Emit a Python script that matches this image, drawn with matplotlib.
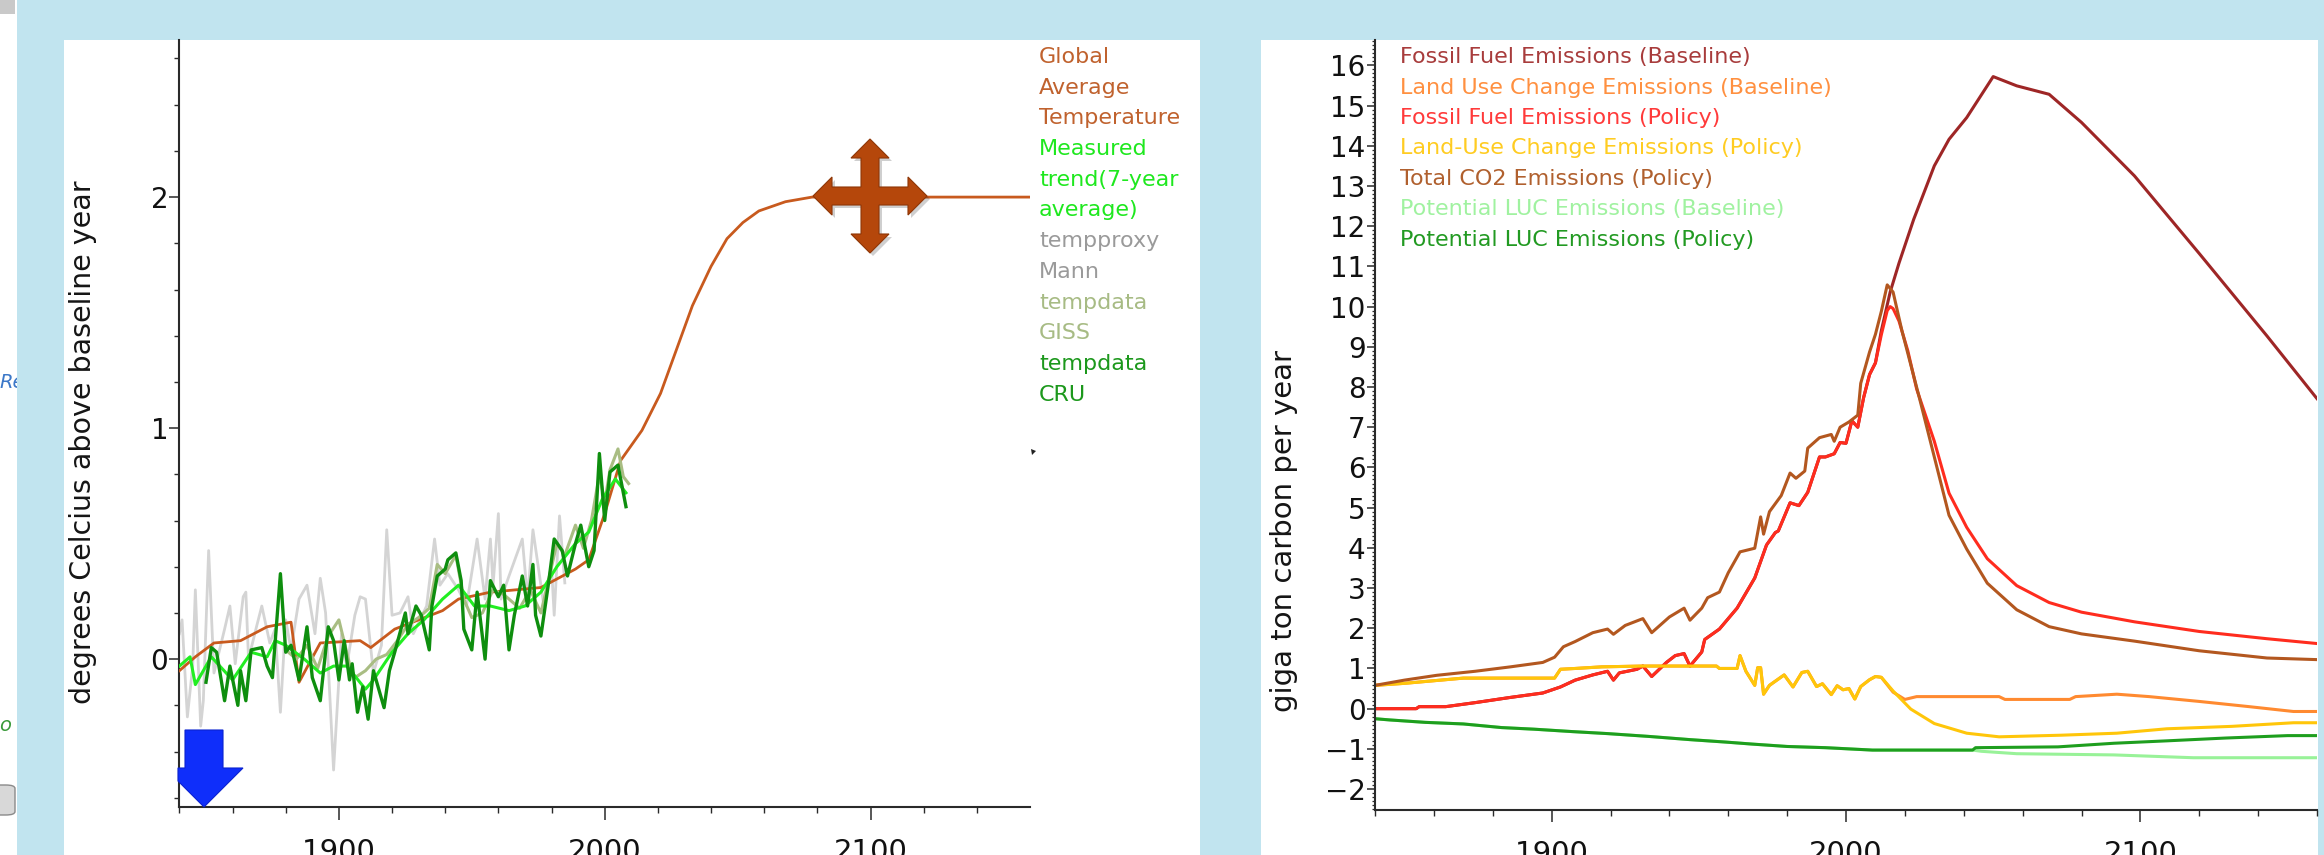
import matplotlib
matplotlib.use("Agg")
import matplotlib.pyplot as plt
from matplotlib.patches import Rectangle, Polygon, FancyBboxPatch
from matplotlib.ticker import MultipleLocator, FixedLocator

# ---------------- data: left chart (temperature) ----------------
temp_years = [1840, 1846, 1853, 1863, 1873, 1882, 1885, 1893, 1908, 1912, 1921, 1939, 1945, 1957,
              1976, 1989, 1994, 2000, 2006, 2014, 2021, 2027, 2033, 2040, 2046, 2052, 2058, 2068,
              2078, 2160]
temp_vals = [-0.05, 0.01, 0.07, 0.08, 0.14, 0.16, -0.10, 0.07, 0.08, 0.05, 0.13, 0.21, 0.26, 0.29,
             0.31, 0.39, 0.43, 0.63, 0.86, 0.99, 1.15, 1.34, 1.53, 1.70, 1.82, 1.89, 1.94, 1.98,
             2.00, 2.00]

cru_years = [1850, 1852, 1854, 1857, 1859, 1862, 1863, 1865, 1867, 1871, 1873, 1875, 1878, 1880,
             1882, 1885, 1888, 1890, 1893, 1896, 1898, 1900, 1902, 1904, 1905, 1907, 1909, 1911,
             1913, 1917, 1919, 1921, 1925, 1926, 1929, 1931, 1934, 1935, 1937, 1940, 1941, 1944,
             1946, 1947, 1950, 1952, 1955, 1957, 1960, 1962, 1964, 1966, 1969, 1971, 1973, 1974,
             1976, 1979, 1981, 1984, 1986, 1989, 1991, 1994, 1996, 1998, 2000, 2002, 2005, 2008]
cru_vals = [-0.10, 0.05, 0.03, -0.18, -0.03, -0.20, -0.05, -0.18, 0.04, 0.05, -0.03, -0.08, 0.37,
            0.03, 0.06, -0.09, 0.14, -0.08, -0.18, 0.14, 0.08, -0.09, 0.08, -0.09, -0.02, -0.23,
            -0.12, -0.26, -0.05, -0.21, -0.05, 0.03, 0.20, 0.11, 0.23, 0.19, 0.04, 0.23, 0.36, 0.39,
            0.43, 0.46, 0.34, 0.13, 0.04, 0.29, 0.00, 0.34, 0.27, 0.32, 0.04, 0.19, 0.36, 0.23,
            0.41, 0.19, 0.10, 0.34, 0.52, 0.47, 0.36, 0.50, 0.58, 0.40, 0.47, 0.89, 0.60, 0.81,
            0.84, 0.66]

trend_years = [1840, 1844, 1846, 1852, 1860, 1867, 1873, 1876, 1880, 1887, 1893, 1898, 1903, 1910,
               1913, 1920, 1926, 1932, 1939, 1945, 1951, 1957, 1964, 1970, 1976, 1982, 1989, 1994,
               1999, 2004, 2008]
trend_vals = [-0.03, 0.01, -0.11, 0.01, -0.09, 0.03, 0.01, 0.08, 0.06, 0.00, -0.06, -0.03, -0.03,
              -0.13, -0.09, 0.03, 0.11, 0.17, 0.26, 0.32, 0.23, 0.23, 0.21, 0.23, 0.29, 0.40, 0.50,
              0.55, 0.69, 0.78, 0.72]

mann_years = [1840, 1841, 1843, 1845, 1846, 1848, 1849, 1851, 1853, 1857, 1859, 1861, 1864, 1865,
              1866, 1869, 1871, 1874, 1876, 1878, 1880, 1882, 1885, 1888, 1891, 1893, 1895, 1898,
              1901, 1903, 1906, 1908, 1910, 1913, 1916, 1918, 1920, 1923, 1926, 1928, 1933, 1936,
              1938, 1941, 1945, 1948, 1952, 1955, 1957, 1958, 1960, 1961, 1964, 1969, 1971, 1973,
              1975, 1977, 1980, 1981, 1983, 1985]
mann_vals = [0.11, 0.17, -0.25, -0.03, 0.30, -0.29, -0.18, 0.47, -0.06, 0.13, 0.23, -0.02, 0.27,
             0.29, 0.00, 0.14, 0.23, 0.07, 0.13, -0.23, 0.17, 0.04, 0.26, 0.32, 0.11, 0.35, 0.20,
             -0.48, 0.11, -0.03, 0.19, 0.27, 0.26, -0.06, 0.06, 0.56, 0.19, 0.20, 0.27, 0.11, 0.23,
             0.52, 0.32, 0.37, 0.30, 0.23, 0.52, 0.26, 0.52, 0.32, 0.63, 0.26, 0.36, 0.52, 0.26,
             0.56, 0.40, 0.24, 0.40, 0.19, 0.62, 0.33]

giss_years = [1880, 1884, 1888, 1892, 1896, 1900, 1904, 1906, 1910, 1914, 1918, 1922, 1926, 1930,
              1934, 1937, 1940, 1944, 1947, 1950, 1954, 1958, 1962, 1964, 1968, 1972, 1976, 1980,
              1982, 1985, 1989, 1992, 1995, 1998, 2000, 2002, 2005, 2007, 2009]
giss_vals = [0.04, 0.00, 0.06, -0.04, 0.10, 0.17, -0.02, -0.08, -0.05, 0.00, 0.02, 0.08, 0.15, 0.18,
             0.22, 0.41, 0.37, 0.45, 0.26, 0.18, 0.20, 0.30, 0.28, 0.26, 0.22, 0.30, 0.20, 0.40,
             0.50, 0.45, 0.58, 0.48, 0.60, 0.80, 0.68, 0.82, 0.91, 0.79, 0.76]

left_labels = ["Global", "Average", "Temperature", "Measured", "trend(7-year", "average)",
               "tempproxy", "Mann", "tempdata", "GISS", "tempdata", "CRU"]
left_label_colors = ["#C0622E"] * 3 + ["#1EE81E"] * 3 + ["#9A9A9A"] * 2 + ["#A7BB84"] * 2 + ["#1C981C"] * 2

# ---------------- data: right chart (emissions) ----------------
ff_hist_years = [1840, 1854, 1855, 1864, 1874, 1886, 1897, 1903, 1908, 1914, 1919, 1921, 1923, 1929,
                 1931, 1934, 1939, 1942, 1945, 1947, 1951, 1952, 1957, 1963, 1969, 1973, 1976, 1977,
                 1981, 1984, 1987, 1991, 1993, 1996, 1998, 2000, 2002, 2004, 2006, 2008, 2010]
ff_hist_vals = [0.00, 0.00, 0.05, 0.05, 0.15, 0.28, 0.39, 0.54, 0.71, 0.84, 0.93, 0.71, 0.89, 0.98,
                1.06, 0.80, 1.15, 1.32, 1.37, 1.06, 1.41, 1.72, 1.98, 2.50, 3.25, 4.07, 4.38, 4.42,
                5.12, 5.05, 5.38, 6.26, 6.26, 6.34, 6.62, 6.60, 7.16, 7.00, 7.74, 8.31, 8.60]
ff_policy_years = [2012, 2014, 2015, 2016, 2018, 2021, 2024, 2027, 2030, 2035, 2041, 2048, 2058,
                   2069, 2080, 2098, 2120, 2143, 2160]
ff_policy_vals = [9.30, 9.90, 10.00, 9.95, 9.64, 8.90, 7.95, 7.30, 6.65, 5.36, 4.51, 3.73, 3.06,
                  2.64, 2.40, 2.16, 1.92, 1.74, 1.62]
ff_base_years = [2012, 2015, 2018, 2023, 2030, 2035, 2041, 2050, 2058, 2069, 2080, 2098, 2120, 2143, 2160]
ff_base_vals = [9.40, 10.36, 11.08, 12.17, 13.50, 14.16, 14.70, 15.72, 15.49, 15.28, 14.58, 13.25,
                11.32, 9.27, 7.71]

tot_years = [1840, 1850, 1861, 1874, 1886, 1897, 1901, 1904, 1908, 1914, 1919, 1921, 1925, 1931,
             1934, 1940, 1945, 1947, 1951, 1953, 1957, 1960, 1964, 1969, 1971, 1972, 1974, 1978,
             1981, 1983, 1986, 1987, 1991, 1995, 1996, 1998, 2001, 2004, 2005, 2008, 2010, 2012,
             2014, 2016, 2019, 2025, 2030, 2035, 2041, 2048, 2058, 2069, 2080, 2098, 2120, 2143, 2160]
tot_vals = [0.58, 0.71, 0.83, 0.93, 1.04, 1.15, 1.28, 1.54, 1.67, 1.89, 1.98, 1.85, 2.07, 2.24,
            1.89, 2.28, 2.50, 2.20, 2.50, 2.76, 2.90, 3.38, 3.90, 3.99, 4.77, 4.34, 4.90, 5.30,
            5.86, 5.73, 5.91, 6.48, 6.74, 6.82, 6.65, 7.00, 7.13, 7.30, 8.09, 8.87, 9.31, 9.88,
            10.54, 10.36, 9.40, 7.71, 6.26, 4.81, 3.97, 3.12, 2.46, 2.04, 1.86, 1.68, 1.44, 1.26, 1.22]

luc_hist_years = [1840, 1850, 1870, 1901, 1903, 1908, 1917, 1931, 1956, 1957, 1963, 1964, 1966,
                  1969, 1970, 1971, 1972, 1974, 1979, 1982, 1985, 1987, 1990, 1992, 1995, 1997,
                  1999, 2001, 2003, 2005, 2008, 2010]
luc_hist_vals = [0.58, 0.63, 0.76, 0.76, 0.98, 1.00, 1.04, 1.06, 1.06, 1.00, 1.00, 1.32, 0.93,
                 0.58, 1.02, 1.02, 0.36, 0.58, 0.84, 0.54, 0.90, 0.93, 0.55, 0.62, 0.35, 0.57,
                 0.47, 0.50, 0.24, 0.55, 0.72, 0.80]
luc_policy_years = [2012, 2016, 2022, 2030, 2041, 2052, 2073, 2092, 2109, 2131, 2152, 2160]
luc_policy_vals = [0.78, 0.44, -0.01, -0.37, -0.61, -0.70, -0.66, -0.61, -0.50, -0.44, -0.35, -0.35]
luc_base_years = [2012, 2016, 2020, 2024, 2052, 2054, 2076, 2078, 2092, 2103, 2120, 2137, 2152, 2160]
luc_base_vals = [0.78, 0.41, 0.23, 0.30, 0.30, 0.23, 0.23, 0.30, 0.36, 0.30, 0.18, 0.05, -0.07, -0.07]

pot_hist_years = [1840, 1845, 1857, 1870, 1883, 1894, 1907, 1919, 1933, 1947, 1959, 1968, 1980,
                  1993, 2009, 2041, 2043]
pot_hist_vals = [-0.25, -0.28, -0.34, -0.38, -0.47, -0.51, -0.57, -0.62, -0.69, -0.77, -0.83,
                 -0.88, -0.94, -0.97, -1.03, -1.03, -1.03]
pot_policy_years = [2044, 2072, 2091, 2109, 2129, 2150, 2160]
pot_policy_vals = [-0.97, -0.95, -0.86, -0.80, -0.73, -0.67, -0.67]
pot_base_years = [2046, 2058, 2091, 2118, 2160]
pot_base_vals = [-1.06, -1.12, -1.15, -1.22, -1.22]

right_labels = ["Fossil Fuel Emissions (Baseline)", "Land Use Change Emissions (Baseline)",
                "Fossil Fuel Emissions (Policy)", "Land-Use Change Emissions (Policy)",
                "Total CO2 Emissions (Policy)", "Potential LUC Emissions (Baseline)",
                "Potential LUC Emissions (Policy)"]
right_colors = ["#9E2626", "#FF8A30", "#FF2C1E", "#FFC60A", "#B3571F", "#98F298", "#1E9E1E"]
right_text_colors = ["#A83C3C", "#FF9040", "#FF3A3A", "#FFCC22", "#B0602E", "#A0F2A0", "#229A22"]

# ---------------- figure ----------------
W, H = 2324, 855
DPI = 100
fig = plt.figure(figsize=(W / DPI, H / DPI), dpi=DPI, facecolor="#C1E4EF")


def fx(x):
    return x / W


def fy(y):
    return 1 - y / H


def pix_rect(x0, y0, x1, y1):
    return [fx(x0), fy(y1), (x1 - x0) / W, (y1 - y0) / H]


def add_rect(x0, y0, x1, y1, color, z=-5):
    fig.add_artist(Rectangle((fx(x0), fy(y1)), (x1 - x0) / W, (y1 - y0) / H,
                             transform=fig.transFigure, facecolor=color, edgecolor="none", zorder=z))


# white panels
add_rect(0, 0, 17, H, "white")
add_rect(64, 40, 1200, H, "white")
add_rect(1261, 40, 2318, H, "white")
add_rect(0, 0, 15, 14, "#C9C9C9", z=-4)

# UI fragments on far-left strip
fig.text(fx(-1), fy(382), "Re", color="#3C78C8", fontsize=14, style="italic", va="center",
         ha="left", zorder=-4.5)
fig.text(fx(-1), fy(725), "o", color="#3A9A3A", fontsize=14, style="italic", va="center",
         ha="left", zorder=-4.5)
add_rect(17, 0, 64, H, "#C1E4EF", z=-4.2)
fig.add_artist(FancyBboxPatch((fx(-10), fy(815)), 25 / W, 30 / H,
                              boxstyle="round,pad=0,rounding_size=0.004",
                              transform=fig.transFigure, facecolor="#D8D8D8",
                              edgecolor="#8A8A8A", lw=1.0, zorder=-4.1))

spine_col = "#2A2A2A"

# ---------------- left axes ----------------
ax1 = fig.add_axes(pix_rect(179.4, 40, 1030, 807))
ax1.set_facecolor("white")
ax1.plot(mann_years, mann_vals, color="#D4D4D4", lw=2.0, zorder=2)
ax1.plot(temp_years, temp_vals, color="#C85A1E", lw=2.0, zorder=3)
ax1.plot(giss_years, giss_vals, color="#A9BD83", lw=2.2, zorder=4)
ax1.plot(trend_years, trend_vals, color="#22EE22", lw=2.2, zorder=5)
ax1.plot(cru_years, cru_vals, color="#0E8E0E", lw=2.4, zorder=6)
ax1.set_xlim(1840, 2160)
ax1.set_ylim(-0.64, 2.68)
for s in ("top", "right"):
    ax1.spines[s].set_visible(False)
for s in ("left", "bottom"):
    ax1.spines[s].set_linewidth(1.5)
    ax1.spines[s].set_color(spine_col)
ax1.xaxis.set_minor_locator(FixedLocator(list(range(1840, 2160, 20))))
ax1.set_xticks([1900, 2000, 2100], ["1900", "2000", "2100"], fontsize=21,
               fontfamily="DejaVu Sans", color="#111111")
ax1.set_yticks([0, 1, 2], ["0", "1", "2"], fontsize=20, fontfamily="DejaVu Sans", color="#111111")
ax1.yaxis.set_minor_locator(MultipleLocator(0.2))
ax1.tick_params(axis="y", which="major", length=7, width=1.1, pad=1, color=spine_col)
ax1.tick_params(axis="y", which="minor", length=3.5, width=1.0, color=spine_col)
ax1.tick_params(axis="x", which="major", length=9.4, width=1.1, pad=13, color=spine_col)
ax1.tick_params(axis="x", which="minor", length=4.3, width=1.0, color=spine_col)

fig.text(fx(83), fy(442), "degrees Celcius above baseline year", rotation=90, fontsize=20.5,
         ha="center", va="center", color="#151515", family="DejaVu Sans")

for i, (lab, col) in enumerate(zip(left_labels, left_label_colors)):
    fig.text(fx(1039), fy(57 + 30.7 * i), lab, color=col, fontsize=16, ha="left", va="center",
             family="DejaVu Sans")

# blue down arrow widget (UI decoration)
blue_pts = [(185, 730), (223, 730), (223, 768), (243, 768), (204, 807), (178, 781), (178, 768), (185, 768)]
fig.add_artist(Polygon([(fx(x), fy(y)) for x, y in blue_pts], closed=True, transform=fig.transFigure,
                       facecolor="#0F2EFA", edgecolor="#0A22D0", lw=0.8, zorder=5))

# brown four-way arrow widget (UI decoration)
cx, cy = 870, 196
a, hb, hw, sw = 57, 38, 19, 9
cross = [(a, 0), (hb, hw), (hb, sw), (sw, sw), (sw, hb), (hw, hb), (0, a), (-hw, hb), (-sw, hb),
         (-sw, sw), (-hb, sw), (-hb, hw), (-a, 0), (-hb, -hw), (-hb, -sw), (-sw, -sw), (-sw, -hb),
         (-hw, -hb), (0, -a), (hw, -hb), (sw, -hb), (sw, -sw), (hb, -sw), (hb, -hw)]
fig.add_artist(Polygon([(fx(cx + 3 + dx), fy(cy + 3 + dy)) for dx, dy in cross], closed=True,
                       transform=fig.transFigure, facecolor="#00000030", edgecolor="none", zorder=5))
fig.add_artist(Polygon([(fx(cx + dx), fy(cy + dy)) for dx, dy in cross], closed=True,
                       transform=fig.transFigure, facecolor="#B5470B", edgecolor="#8E3606",
                       lw=0.8, zorder=6))
# small cursor speck
fig.add_artist(Polygon([(fx(1031), fy(449)), (fx(1036), fy(451)), (fx(1032), fy(455))], closed=True,
                       transform=fig.transFigure, facecolor="#222222", edgecolor="none", zorder=6))

# ---------------- right axes ----------------
ax2 = fig.add_axes(pix_rect(1375, 40, 2317, 810))
ax2.set_facecolor("white")
ax2.plot(ff_hist_years + ff_base_years, ff_hist_vals + ff_base_vals, color=right_colors[0], lw=2.2)
ax2.plot(luc_hist_years + luc_base_years, luc_hist_vals + luc_base_vals, color=right_colors[1], lw=2.2)
ax2.plot(ff_hist_years + ff_policy_years, ff_hist_vals + ff_policy_vals, color=right_colors[2], lw=2.2)
ax2.plot(luc_hist_years + luc_policy_years, luc_hist_vals + luc_policy_vals, color=right_colors[3], lw=2.2)
ax2.plot(tot_years, tot_vals, color=right_colors[4], lw=2.2)
ax2.plot(pot_hist_years + pot_base_years, pot_hist_vals + pot_base_vals, color=right_colors[5], lw=2.2)
ax2.plot(pot_hist_years + pot_policy_years, pot_hist_vals + pot_policy_vals, color=right_colors[6], lw=2.2)
ax2.set_xlim(1840, 2160)
ax2.set_ylim(-2.52, 16.63)
for s in ("top", "right"):
    ax2.spines[s].set_visible(False)
for s in ("left", "bottom"):
    ax2.spines[s].set_linewidth(1.5)
    ax2.spines[s].set_color(spine_col)
ax2.xaxis.set_minor_locator(FixedLocator(list(range(1840, 2161, 20))))
ax2.set_xticks([1900, 2000, 2100], ["1900", "2000", "2100"], fontsize=21,
               fontfamily="DejaVu Sans", color="#111111")
yt = list(range(-2, 17))
ax2.set_yticks(yt, [str(v).replace("-", "\u2212") for v in yt], fontsize=20,
               fontfamily=["Liberation Sans Narrow", "DejaVu Sans"], color="#111111")
ax2.yaxis.set_minor_locator(MultipleLocator(0.1))
ax2.tick_params(axis="y", which="major", length=5.8, width=1.1, pad=1, color=spine_col)
ax2.tick_params(axis="y", which="minor", length=2.5, width=0.9, color=spine_col)
ax2.tick_params(axis="x", which="major", length=8.6, width=1.1, pad=13, color=spine_col)
ax2.tick_params(axis="x", which="minor", length=4.3, width=1.0, color=spine_col)

fig.text(fx(1284), fy(531), "giga ton carbon per year", rotation=90, fontsize=21,
         ha="center", va="center", color="#151515", family="DejaVu Sans")

for i, (lab, col) in enumerate(zip(right_labels, right_text_colors)):
    fig.text(fx(1400), fy(57 + 30.5 * i), lab, color=col, fontsize=16, ha="left", va="center",
             family="DejaVu Sans")

fig.savefig("out.png", dpi=DPI, facecolor=fig.get_facecolor())
